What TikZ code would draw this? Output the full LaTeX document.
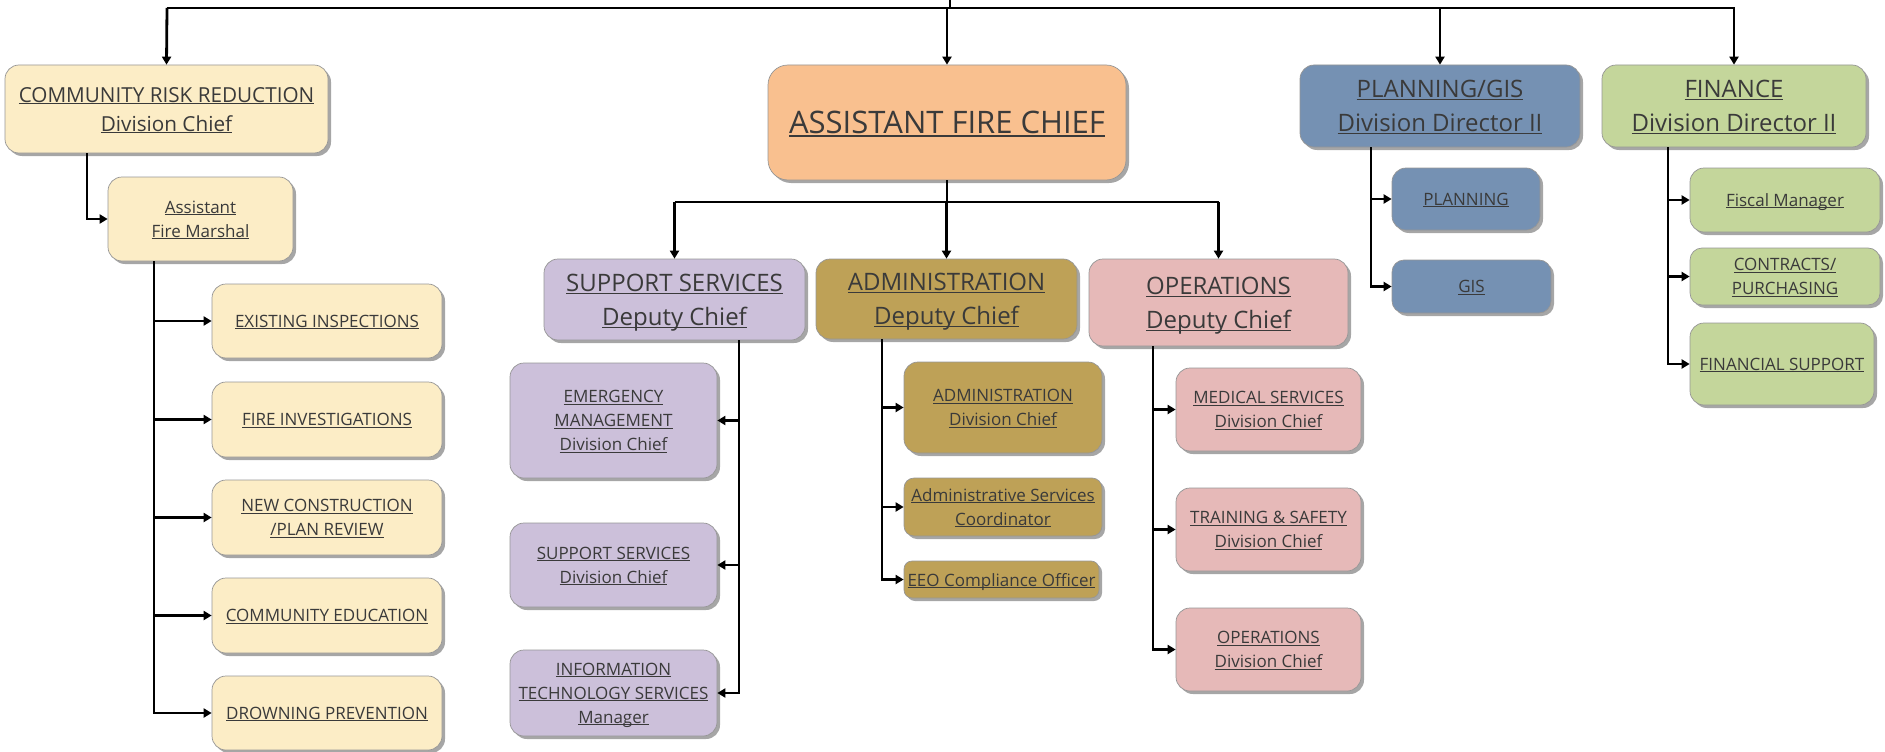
\documentclass[tikz,border=0pt]{standalone}
\usepackage{fontspec}
\setmainfont{Open Sans}
\usetikzlibrary{arrows.meta,shadows}
\definecolor{txt}{RGB}{58,58,58}
\definecolor{cyel}{RGB}{252,237,198}
\definecolor{corg}{RGB}{249,192,143}
\definecolor{cblu}{RGB}{117,145,179}
\definecolor{cgrn}{RGB}{196,214,155}
\definecolor{clav}{RGB}{204,192,218}
\definecolor{cgld}{RGB}{190,161,87}
\definecolor{cpnk}{RGB}{230,185,184}
\definecolor{bord}{RGB}{150,150,150}
\newsavebox\ulbox
\newcommand\myul[1]{\sbox\ulbox{#1}\rlap{\rule[-0.11em]{\wd\ulbox}{0.055em}}\usebox\ulbox}
\tikzset{
  orgbox/.style={draw=bord, line width=0.7pt, rounded corners=14pt, align=center, text=txt, inner sep=0pt,
    text depth=-4pt,
    drop shadow={shadow xshift=3pt, shadow yshift=-3pt, opacity=0.35, fill=black}},
  smalltxt/.style={font=\fontsize{17}{24}\selectfont},
  bigtxt/.style={font=\fontsize{24}{34}\selectfont},
  conn/.style={line width=2.8pt, draw=black},
  arr/.style={conn, -{Triangle[length=8pt,width=9pt]}}
}
\begin{document}
\begin{tikzpicture}[x=1pt,y=-1pt]
\useasboundingbox (0,0) rectangle (1885,752);
% top level
\node[orgbox, fill=cyel, font=\fontsize{20.7}{29}\selectfont, minimum width=323pt, minimum height=88pt] (crr) at (166.5,109)
  {\myul{COMMUNITY RISK REDUCTION}\\\myul{Division Chief}};
\node[orgbox, fill=corg, rounded corners=20pt, font=\fontsize{31}{36}\selectfont, minimum width=358pt, minimum height=115pt] (afc) at (947,122.5)
  {\myul{ASSISTANT FIRE CHIEF}};
\node[orgbox, bigtxt, fill=cblu, minimum width=280pt, minimum height=82pt] (pg) at (1440,106)
  {\myul{PLANNING/GIS}\\\myul{Division Director II}};
\node[orgbox, bigtxt, fill=cgrn, minimum width=264pt, minimum height=82pt] (fin) at (1734,106)
  {\myul{FINANCE}\\\myul{Division Director II}};
% CRR branch
\node[orgbox, smalltxt, fill=cyel, minimum width=185pt, minimum height=84pt] (afm) at (200.5,219)
  {\myul{Assistant}\\\myul{Fire Marshal}};
\node[orgbox, smalltxt, fill=cyel, minimum width=230pt, minimum height=74pt] (ei) at (327,321) {\myul{EXISTING INSPECTIONS}};
\node[orgbox, smalltxt, fill=cyel, minimum width=230pt, minimum height=75pt] (fi) at (327,419.5) {\myul{FIRE INVESTIGATIONS}};
\node[orgbox, smalltxt, fill=cyel, minimum width=230pt, minimum height=75pt] (nc) at (327,517.5) {\myul{NEW CONSTRUCTION}\\\myul{/PLAN REVIEW}};
\node[orgbox, smalltxt, fill=cyel, minimum width=230pt, minimum height=75pt] (ce) at (327,615.5) {\myul{COMMUNITY EDUCATION}};
\node[orgbox, smalltxt, fill=cyel, minimum width=230pt, minimum height=74pt] (dp) at (327,713) {\myul{DROWNING PREVENTION}};
% deputies
\node[orgbox, bigtxt, fill=clav, minimum width=261pt, minimum height=81pt] (ss) at (674.5,299.5)
  {\myul{SUPPORT SERVICES}\\\myul{Deputy Chief}};
\node[orgbox, bigtxt, fill=cgld, minimum width=261pt, minimum height=80pt] (adm) at (946.5,299)
  {\myul{ADMINISTRATION}\\\myul{Deputy Chief}};
\node[orgbox, bigtxt, fill=cpnk, minimum width=259pt, minimum height=87pt] (ops) at (1218.5,302.5)
  {\myul{OPERATIONS}\\\myul{Deputy Chief}};
% support services children
\node[orgbox, smalltxt, fill=clav, minimum width=207pt, minimum height=115pt] (em) at (613.5,420.5)
  {\myul{EMERGENCY}\\\myul{MANAGEMENT}\\\myul{Division Chief}};
\node[orgbox, smalltxt, fill=clav, minimum width=207pt, minimum height=84pt] (ssd) at (613.5,565)
  {\myul{SUPPORT SERVICES}\\\myul{Division Chief}};
\node[orgbox, smalltxt, fill=clav, minimum width=207pt, minimum height=86pt] (it) at (613.5,693)
  {\myul{INFORMATION}\\\myul{TECHNOLOGY SERVICES}\\\myul{Manager}};
% administration children
\node[orgbox, smalltxt, fill=cgld, minimum width=198pt, minimum height=91pt] (ad) at (1003,407.5)
  {\myul{ADMINISTRATION}\\\myul{Division Chief}};
\node[orgbox, smalltxt, fill=cgld, rounded corners=10pt, minimum width=198pt, minimum height=58pt] (asc) at (1003,507)
  {\myul{Administrative Services}\\\myul{Coordinator}};
\node[orgbox, smalltxt, fill=cgld, rounded corners=8pt, minimum width=195pt, minimum height=37pt] (eeo) at (1001.5,579.5)
  {\myul{EEO Compliance Officer}};
% operations children
\node[orgbox, smalltxt, fill=cpnk, minimum width=185pt, minimum height=83pt] (ms) at (1268.5,409.5)
  {\myul{MEDICAL SERVICES}\\\myul{Division Chief}};
\node[orgbox, smalltxt, fill=cpnk, minimum width=185pt, minimum height=83pt] (ts) at (1268.5,529.5)
  {\myul{TRAINING \& SAFETY}\\\myul{Division Chief}};
\node[orgbox, smalltxt, fill=cpnk, minimum width=185pt, minimum height=83pt] (od) at (1268.5,649.5)
  {\myul{OPERATIONS}\\\myul{Division Chief}};
% planning children
\node[orgbox, smalltxt, fill=cblu, minimum width=148pt, minimum height=62pt] (pl) at (1466,199) {\myul{PLANNING}};
\node[orgbox, smalltxt, fill=cblu, rounded corners=12pt, minimum width=159pt, minimum height=53pt] (gis) at (1471.5,286.5) {\myul{GIS}};
% finance children
\node[orgbox, smalltxt, fill=cgrn, minimum width=190pt, minimum height=64pt] (fm) at (1785,200) {\myul{Fiscal Manager}};
\node[orgbox, smalltxt, fill=cgrn, rounded corners=12pt, minimum width=190pt, minimum height=57pt] (cp) at (1785,276.5)
  {\myul{CONTRACTS/}\\\myul{PURCHASING}};
\node[orgbox, smalltxt, fill=cgrn, minimum width=184pt, minimum height=82pt] (fs) at (1782,364) {\myul{FINANCIAL SUPPORT}};
% coordinates
\coordinate (top) at (950,0);
\coordinate (tl) at (167,8);
\coordinate (tr) at (1735,8);
\coordinate (bl) at (674.5,202);
\coordinate (br) at (1218.5,202);
\coordinate (v0) at (87,153);
\coordinate (v1) at (154,261);
\coordinate (v2) at (739,340);
\coordinate (v3) at (882,339);
\coordinate (v4) at (1153,346);
\coordinate (v5) at (1371,147);
\coordinate (v6) at (1668,147);
% top connectors
\draw[conn] (tl) -- (tr);
\draw[conn] (top) -- (top |- tl);
\draw[arr] (tl) -- (crr.north);
\draw[arr] (afc.north |- tl) -- (afc.north);
\draw[arr] (pg.north |- tl) -- (pg.north);
\draw[arr] (fin.north |- tl) -- (fin.north);
% AFC to deputies
\draw[conn] (bl) -- (br);
\draw[conn] (afc.south) -- (afc.south |- bl);
\draw[arr] (bl) -- (ss.north);
\draw[arr] (adm.north |- bl) -- (adm.north);
\draw[arr] (br) -- (ops.north);
% CRR branch
\draw[arr] (v0) |- (afm.west);
\draw[arr] (v1) |- (dp.west);
\draw[arr] (v1 |- ei.west) -- (ei.west);
\draw[arr] (v1 |- fi.west) -- (fi.west);
\draw[arr] (v1 |- nc.west) -- (nc.west);
\draw[arr] (v1 |- ce.west) -- (ce.west);
% support services branch
\draw[arr] (v2) |- (it.east);
\draw[arr] (v2 |- em.east) -- (em.east);
\draw[arr] (v2 |- ssd.east) -- (ssd.east);
% administration branch
\draw[arr] (v3) |- (eeo.west);
\draw[arr] (v3 |- ad.west) -- (ad.west);
\draw[arr] (v3 |- asc.west) -- (asc.west);
% operations branch
\draw[arr] (v4) |- (od.west);
\draw[arr] (v4 |- ms.west) -- (ms.west);
\draw[arr] (v4 |- ts.west) -- (ts.west);
% planning branch
\draw[arr] (v5) |- (gis.west);
\draw[arr] (v5 |- pl.west) -- (pl.west);
% finance branch
\draw[arr] (v6) |- (fs.west);
\draw[arr] (v6 |- fm.west) -- (fm.west);
\draw[arr] (v6 |- cp.west) -- (cp.west);
\end{tikzpicture}
\end{document}
